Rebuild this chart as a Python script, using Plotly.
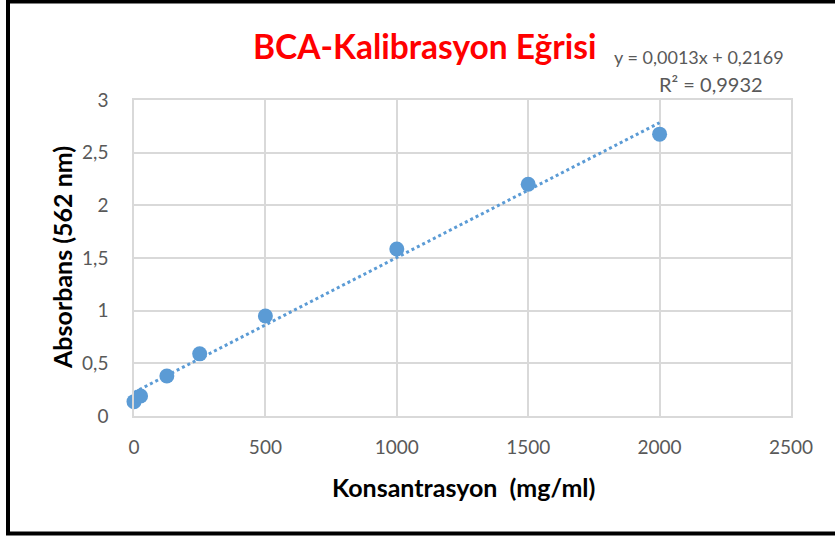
import numpy as np
import plotly.graph_objects as go

# Data
concentration = [0, 25, 125, 250, 500, 1000, 1500, 2000]
absorbance = [0.136, 0.19, 0.38, 0.59, 0.95, 1.586, 2.2, 2.676]
x_ticks = [0, 500, 1000, 1500, 2000, 2500]
y_ticks = [0, 0.5, 1, 1.5, 2, 2.5, 3]
y_tick_labels = ["0", "0,5", "1", "1,5", "2", "2,5", "3"]
title_text = "BCA-Kalibrasyon Eğrisi"
eq_text = "y = 0,0013x + 0,2169"
r2_text = "R² = 0,9932"
x_title = "Konsantrasyon  (mg/ml)"
y_title = "Absorbans (562 nm)"

slope, intercept = np.polyfit(concentration, absorbance, 1)
trend_x = [min(concentration), max(concentration)]
trend_y = [slope * v + intercept for v in trend_x]

W, H = 835, 536
L, R, T, B = 134, 44, 100, 120
pw, ph = W - L - R, H - T - B

def px(xpix):
    return (xpix - L) / pw

def py(ypix):
    return (H - B - ypix) / ph

blue = "#5b9bd5"
grid = "#d9d9d9"
gray = "#595959"
font = "Lato"

fig = go.Figure()
fig.add_trace(go.Scatter(x=trend_x, y=trend_y, mode="lines",
                         line=dict(color=blue, width=3, dash="dot"),
                         hoverinfo="skip", showlegend=False, cliponaxis=False))
fig.add_trace(go.Scatter(x=concentration, y=absorbance, mode="markers",
                         marker=dict(color=blue, size=15),
                         showlegend=False, cliponaxis=False))

fig.update_layout(
    width=W, height=H,
    margin=dict(l=L, r=R, t=T, b=B),
    paper_bgcolor="white", plot_bgcolor="white",
    font=dict(family=font, color=gray, size=19),
    xaxis=dict(range=[0, 2500], tickvals=x_ticks, ticktext=[str(v) for v in x_ticks],
               showgrid=True, gridcolor=grid, gridwidth=1.5,
               showline=True, linecolor=grid, linewidth=1.5, mirror=True,
               zeroline=False, ticks="", ticklabelstandoff=13,
               tickfont=dict(family=font, size=19, color=gray), fixedrange=True),
    yaxis=dict(range=[0, 3], tickvals=y_ticks, ticktext=y_tick_labels,
               showgrid=True, gridcolor=grid, gridwidth=1.5,
               showline=True, linecolor=grid, linewidth=1.5, mirror=True,
               zeroline=False, ticks="", ticklabelstandoff=20,
               tickfont=dict(family=font, size=19, color=gray), fixedrange=True),
)

annotations = [
    dict(text="<b>" + title_text + "</b>", x=px(425), y=py(46), xref="paper", yref="paper",
         showarrow=False, xanchor="center", yanchor="middle",
         font=dict(family=font, size=33.5, color="#ff0000")),
    dict(text=eq_text, x=px(699), y=py(57), xref="paper", yref="paper",
         showarrow=False, xanchor="center", yanchor="middle",
         font=dict(family=font, size=18, color=gray)),
    dict(text=r2_text, x=px(711), y=py(84), xref="paper", yref="paper",
         showarrow=False, xanchor="center", yanchor="middle",
         font=dict(family=font, size=20, color=gray)),
    dict(text="<b>" + x_title + "</b>", x=px(463), y=py(487), xref="paper", yref="paper",
         showarrow=False, xanchor="center", yanchor="middle",
         font=dict(family=font, size=25, color="#000000")),
    dict(text="<b>" + y_title + "</b>", x=px(62), y=py(258), xref="paper", yref="paper",
         showarrow=False, xanchor="center", yanchor="middle", textangle=-90,
         font=dict(family=font, size=25, color="#000000")),
]
fig.update_layout(annotations=annotations)

# outer black frame of the picture (right edge runs off-canvas)
fig.add_shape(type="rect", xref="paper", yref="paper",
              x0=px(8), x1=px(850), y0=py(533.5), y1=py(1.5),
              line=dict(color="#000000", width=4), fillcolor="rgba(0,0,0,0)", layer="above")

fig.write_html("out.html", config={"displayModeBar": False, "staticPlot": False},
               post_script="document.body.style.margin='0';document.body.style.padding='0';")
